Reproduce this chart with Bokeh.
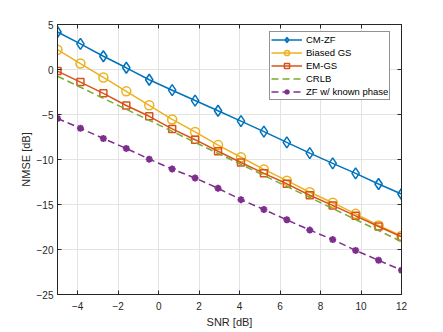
from bokeh.plotting import figure
from bokeh.models import LinearAxis, Legend, LegendItem, FixedTicker
from bokeh.embed import file_html
from bokeh.resources import INLINE

snr = [-5.0, -3.867, -2.733, -1.6, -0.467, 0.667, 1.8, 2.933, 4.067, 5.2,
       6.333, 7.467, 8.6, 9.733, 10.867, 12.0]
cm_zf = [4.17, 2.84, 1.47, 0.19, -1.14, -2.3, -3.45, -4.58, -5.73, -6.9,
         -8.1, -9.29, -10.43, -11.54, -12.72, -13.83]
biased_gs = [2.2, 0.66, -0.88, -2.43, -3.98, -5.55, -6.94, -8.4, -9.75, -11.1,
             -12.35, -13.64, -14.8, -16.04, -17.33, -18.5]
em_gs = [-0.18, -1.4, -2.65, -4.0, -5.2, -6.6, -7.8, -9.08, -10.33, -11.54,
         -12.7, -13.97, -15.1, -16.26, -17.44, -18.6]
crlb = [-0.75, -1.97, -3.2, -4.42, -5.65, -6.87, -8.1, -9.32, -10.55, -11.77,
        -13.0, -14.22, -15.45, -16.67, -17.9, -19.12]
zf_known = [-5.44, -6.53, -7.67, -8.77, -9.96, -11.06, -12.06, -13.2, -14.46, -15.56,
            -16.7, -17.84, -18.9, -20.1, -21.2, -22.3]

x_ticks = [-4, -2, 0, 2, 4, 6, 8, 10, 12]
y_ticks = [5, 0, -5, -10, -15, -20, -25]

FONT = "Liberation Sans"
AX = "#262626"

p = figure(width=435, height=331, x_range=(-5, 12), y_range=(-25, 5),
           output_backend="svg", toolbar_location=None,
           min_border_left=57, min_border_top=24, min_border_right=34, min_border_bottom=37,
           background_fill_color="white", border_fill_color="white")
p.outline_line_color = AX
p.outline_line_width = 1

for ax, ticks in ((p.xaxis[0], x_ticks), (p.yaxis[0], y_ticks)):
    ax.ticker = FixedTicker(ticks=ticks)
    ax.major_tick_in = 4
    ax.major_tick_out = 0
    ax.minor_tick_line_color = None
    ax.axis_line_color = AX
    ax.major_tick_line_color = AX
    ax.major_label_text_font = FONT
    ax.major_label_text_font_size = "10px"
    ax.major_label_text_color = AX
    ax.axis_label_text_font = FONT
    ax.axis_label_text_font_size = "11px"
    ax.axis_label_text_font_style = "normal"
    ax.axis_label_text_color = AX

p.xaxis.axis_label = "SNR [dB]"
p.yaxis.axis_label = "NMSE [dB]"
p.xaxis.major_label_standoff = 7
p.xaxis.axis_label_standoff = 3
p.yaxis.major_label_standoff = 4
p.yaxis.axis_label_standoff = 2

for loc, ticks in (("above", x_ticks), ("right", y_ticks)):
    a = LinearAxis(ticker=FixedTicker(ticks=ticks), major_tick_in=4, major_tick_out=0,
                   minor_tick_line_color=None, axis_line_color=AX,
                   major_tick_line_color=AX, major_label_text_color=None,
                   major_label_text_font_size="1px", major_label_standoff=0)
    p.add_layout(a, loc)

p.xgrid.ticker = FixedTicker(ticks=x_ticks)
p.ygrid.ticker = FixedTicker(ticks=y_ticks)
p.grid.grid_line_color = "#e3e3e3"
p.grid.grid_line_width = 1

BLUE = "#0072BD"
YEL = "#EDB120"
ORG = "#D95319"
GRN = "#77AC30"
PUR = "#7E2F8E"

l1 = p.line(snr, cm_zf, line_color=BLUE, line_width=1.5)
m1 = p.scatter(snr, cm_zf, marker="diamond", size=11, line_color=BLUE, line_width=1.5,
               fill_color=None)
l2 = p.line(snr, biased_gs, line_color=YEL, line_width=1.5)
m2 = p.scatter(snr, biased_gs, marker="circle", size=9, line_color=YEL, line_width=1.5,
               fill_color=None)
l3 = p.line(snr, em_gs, line_color=ORG, line_width=1.5)
m3 = p.scatter(snr, em_gs, marker="square", size=7, line_color=ORG, line_width=1.5,
               fill_color=None)
l4 = p.line(snr, crlb, line_color=GRN, line_width=1.5, line_dash="7 4")
l5 = p.line(snr, zf_known, line_color=PUR, line_width=1.5, line_dash="7 4")
m5 = p.scatter(snr, zf_known, marker="asterisk", size=7, line_color=PUR, line_width=2)

legend = Legend(items=[
    LegendItem(label="CM-ZF", renderers=[l1, m1]),
    LegendItem(label="Biased GS", renderers=[l2, m2]),
    LegendItem(label="EM-GS", renderers=[l3, m3]),
    LegendItem(label="CRLB", renderers=[l4]),
    LegendItem(label="ZF w/ known phase", renderers=[l5, m5]),
], location=(212, 194))
legend.label_text_font = FONT
legend.label_text_font_size = "9.5px"
legend.label_text_color = "black"
legend.label_height = 13
legend.glyph_height = 13
legend.glyph_width = 31
legend.label_standoff = 4
legend.spacing = 0
legend.padding = 1
legend.margin = 0
legend.border_line_color = AX
legend.border_line_width = 1
legend.background_fill_color = "white"
legend.background_fill_alpha = 1
p.add_layout(legend)

open("out.html", "w").write(file_html(p, INLINE))
